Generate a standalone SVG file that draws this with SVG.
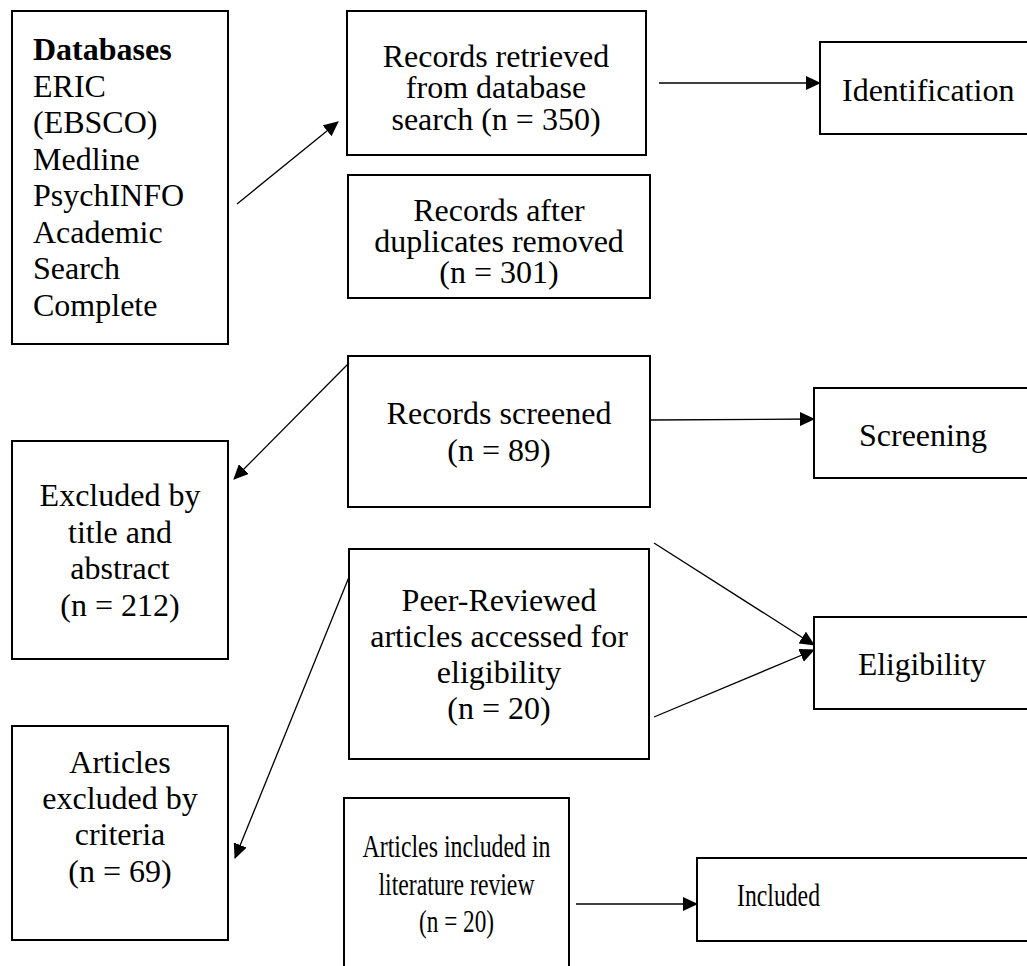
<svg xmlns="http://www.w3.org/2000/svg" width="1027" height="966" viewBox="0 0 1027 966">
<style>
.box{fill:#fff;stroke:#000;stroke-width:2}
.t{font-family:"Liberation Serif","Times New Roman",serif;font-size:32px;fill:#000}
.c{text-anchor:middle}
.b{font-weight:bold}
.ln{stroke:#000;stroke-width:1.3;fill:none;marker-end:url(#ah)}
</style>
<defs>
<marker id="ah" markerUnits="userSpaceOnUse" markerWidth="15" markerHeight="14" refX="14" refY="7" orient="auto">
<path d="M0,0 L15,7 L0,14 z" fill="#000"/>
</marker>
</defs>
<rect width="1027" height="966" fill="#fff"/>
<g id="databases">
<rect class="box" x="12" y="11" width="216" height="333"/>
<text class="t b" x="33" y="60">Databases</text>
<text class="t" x="33" y="97">ERIC</text>
<text class="t" x="33" y="133">(EBSCO)</text>
<text class="t" x="33" y="170">Medline</text>
<text class="t" x="33" y="206">PsychINFO</text>
<text class="t" x="33" y="243">Academic</text>
<text class="t" x="33" y="279">Search</text>
<text class="t" x="33" y="316">Complete</text>
</g>
<g id="retrieved">
<rect class="box" x="347" y="11" width="299" height="144"/>
<text class="t c" x="496" y="67">Records retrieved</text>
<text class="t c" x="496" y="98">from database</text>
<text class="t c" x="496" y="130">search (n = 350)</text>
</g>
<g id="duplicates">
<rect class="box" x="348" y="175" width="302" height="123"/>
<text class="t c" x="499" y="221">Records after</text>
<text class="t c" x="499" y="252">duplicates removed</text>
<text class="t c" x="499" y="283">(n = 301)</text>
</g>
<g id="identification">
<rect class="box" x="820" y="42" width="230" height="92"/>
<text class="t" x="842" y="101">Identification</text>
</g>
<g id="screened">
<rect class="box" x="348" y="356" width="302" height="151"/>
<text class="t c" x="499" y="424">Records screened</text>
<text class="t c" x="499" y="461">(n = 89)</text>
</g>
<g id="screening">
<rect class="box" x="814" y="388" width="230" height="90"/>
<text class="t" x="859" y="446">Screening</text>
</g>
<g id="excluded-title">
<rect class="box" x="12" y="441" width="216" height="218"/>
<text class="t c" x="120" y="506">Excluded by</text>
<text class="t c" x="120" y="543">title and</text>
<text class="t c" x="120" y="579">abstract</text>
<text class="t c" x="120" y="616">(n = 212)</text>
</g>
<g id="peer-reviewed">
<rect class="box" x="349" y="549" width="300" height="210"/>
<text class="t c" x="499" y="611">Peer-Reviewed</text>
<text class="t c" x="499" y="647">articles accessed for</text>
<text class="t c" x="499" y="683">eligibility</text>
<text class="t c" x="499" y="719">(n = 20)</text>
</g>
<g id="eligibility">
<rect class="box" x="814" y="617" width="230" height="92"/>
<text class="t" x="858" y="675" textLength="128" lengthAdjust="spacingAndGlyphs">Eligibility</text>
</g>
<g id="excluded-criteria">
<rect class="box" x="12" y="726" width="216" height="214"/>
<text class="t c" x="120" y="773">Articles</text>
<text class="t c" x="120" y="809">excluded by</text>
<text class="t c" x="120" y="845">criteria</text>
<text class="t c" x="120" y="882">(n = 69)</text>
</g>
<g id="included-review">
<rect class="box" x="344" y="798" width="225" height="200"/>
<text class="t c" x="456.5" y="857" textLength="188" lengthAdjust="spacingAndGlyphs">Articles included in</text>
<text class="t c" x="456.5" y="895" textLength="156" lengthAdjust="spacingAndGlyphs">literature review</text>
<text class="t c" x="456.5" y="932" textLength="75" lengthAdjust="spacingAndGlyphs">(n = 20)</text>
</g>
<g id="included">
<rect class="box" x="697" y="858" width="350" height="83"/>
<text class="t" x="737" y="906" textLength="83" lengthAdjust="spacingAndGlyphs">Included</text>
</g>
<g id="connectors">
<line class="ln" x1="237" y1="204" x2="338" y2="122"/>
<line class="ln" x1="659" y1="83" x2="820" y2="83"/>
<line class="ln" x1="650" y1="420" x2="814" y2="419"/>
<line class="ln" x1="349" y1="363" x2="234" y2="479"/>
<line class="ln" x1="349" y1="577" x2="235" y2="858"/>
<line class="ln" x1="654" y1="543" x2="814" y2="645"/>
<line class="ln" x1="654" y1="717" x2="814" y2="650"/>
<line class="ln" x1="576" y1="904" x2="697" y2="904"/>
</g>
</svg>
